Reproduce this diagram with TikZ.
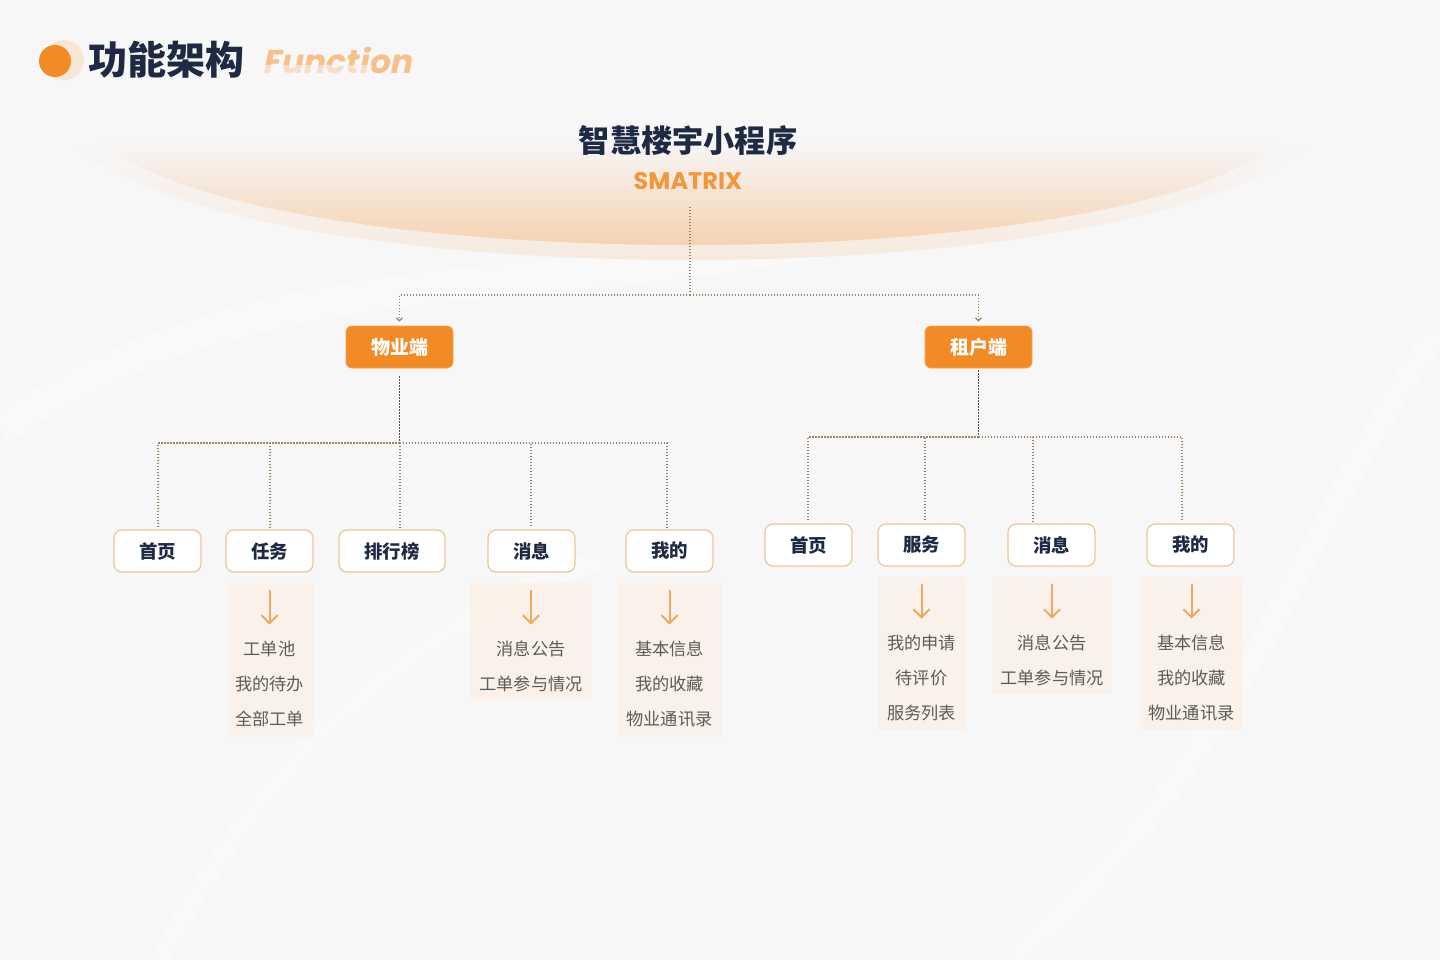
\documentclass[tikz,border=0pt]{standalone}
\usepackage{fontspec}
\setmainfont{Noto Sans CJK SC}
\newfontfamily\fnfont{Poppins}[FakeSlant=0.2]
\newfontfamily\brandfont{Poppins}
\usepackage{tikz}
\usetikzlibrary{arrows.meta, positioning}

\definecolor{bggray}{HTML}{F7F7F8}
\definecolor{navy}{HTML}{1E2A44}
\definecolor{brandorange}{HTML}{F28B26}
\definecolor{arroworange}{HTML}{EFA761}
\definecolor{boxline}{HTML}{EFC495}
\definecolor{panelpeach}{HTML}{FCF1E6}
\definecolor{dotline}{HTML}{9E8366}
\definecolor{itemgray}{HTML}{5C5C5C}

\tikzset{
	rootbox/.style={rectangle, rounded corners=3pt, fill=brandorange, draw=brandorange!80,
		minimum width=53.5pt, minimum height=21pt, text=white, inner sep=0pt,
		font=\fontsize{9.5}{10}\selectfont\bfseries},
	tabbox/.style={rectangle, rounded corners=4pt, fill=white, draw=boxline, line width=0.6pt,
		minimum width=43.5pt, minimum height=21pt, text=navy, inner sep=0pt,
		font=\fontsize{9.2}{10}\selectfont\bfseries},
	panel/.style={rectangle, fill=panelpeach, fill opacity=0.75, inner sep=0pt},
	items/.style={align=center, inner sep=0pt, text=itemgray,
		font=\fontsize{8.6}{17.5}\selectfont},
	conn/.style={dotline, line width=0.6pt, dash pattern=on 0.7pt off 0.8pt},
	trunk/.style={conn, dotline!60!black},
	itemarrow/.style={arroworange, line width=1pt, -{Straight Barb[length=4pt, width=8pt]}}
}

\begin{document}
\begin{tikzpicture}[x=0.5pt, y=-0.5pt]
	% Background and header:
	\fill[bggray] (0, 0) rectangle (1440, 960);
	\useasboundingbox (0, 0) rectangle (1440, 960);
	\draw[white, line width=16pt, opacity=0.3] (0, 430) .. controls (260, 250) and (560, 300) .. (820, 240);
	\draw[white, line width=12pt, opacity=0.3] (1010, 960) .. controls (1250, 760) and (1300, 520) .. (1440, 330);
	\draw[white, line width=10pt, opacity=0.25] (160, 960) .. controls (260, 760) and (420, 620) .. (600, 560);
	
	\fill[brandorange!35, opacity=0.5] (64, 60) circle (20);
	\fill[brandorange] (55, 61) circle (16);
	\node[anchor=west, inner sep=0pt, text=navy, font=\fontsize{19.5}{20}\selectfont\bfseries] 
	(head) at (88, 60){功能架构};
	\node[anchor=west, inner sep=0pt, text=brandorange!55, font=\fnfont\fontsize{16.5}{18}\selectfont\bfseries] 
	(headen) at (262, 60){Function};
	\fill[bggray, opacity=0.55] (262, 65) rectangle (372, 78);
	
	% Orange glow under the title:
	\shade[top color=bggray, bottom color=brandorange!16!bggray] 
	(70, 140) .. controls (225, 300) and (1155, 300) .. (1310, 140) -- cycle;
	\shade[top color=bggray, middle color=brandorange!9!bggray, bottom color=brandorange!45!bggray] 
	(100, 140) .. controls (250, 280) and (1130, 280) .. (1280, 140) -- cycle;
	
	% Title:
	\node[text=navy, inner sep=0pt, font=\fontsize{15.6}{16}\selectfont\bfseries] (title) at (688, 141){智慧楼宇小程序};
	\node[text=brandorange!90, inner sep=0pt, font=\brandfont\fontsize{12}{12}\selectfont\bfseries] (brand) at (688, 181){SMATRIX};
	\coordinate (top) at (690, 207);
	\coordinate (topbus) at (690, 295);
	
	% First level:
	\node[rootbox] (wy) at (399.5, 347){物业端};
	\node[rootbox] (zh) at (978.5, 347){租户端};
	
	\draw[conn] (top) -- (topbus);
	\draw[conn, -{Straight Barb[length=1.5pt, width=3pt]}, shorten >=2pt] (topbus) -| (wy.north);
	\draw[conn, -{Straight Barb[length=1.5pt, width=3pt]}, shorten >=2pt] (topbus) -| (zh.north);
	
	% Second level, property side:
	\node[tabbox] (l1) at (157.5, 551){首页};
	\node[tabbox] (l2) at (269.5, 551){任务};
	\node[tabbox, minimum width=53pt] (l3) at (392, 551){排行榜};
	\node[tabbox] (l4) at (531.5, 551){消息};
	\node[tabbox] (l5) at (669.5, 551){我的};
	\coordinate (lbus) at (400, 443);
	
	\draw[trunk, shorten <=4pt] (wy.south) -- (wy.south |- lbus);
	\foreach \n/\dx in {l1/0.25, l2/0.25, l3/4, l4/-0.25, l5/-1.25}
	\draw[conn, shorten >=1pt] (wy.south |- lbus) -| ([xshift=\dx pt]\n.north);
	
	% Second level, tenant side:
	\node[tabbox] (r1) at (808.5, 545){首页};
	\node[tabbox] (r2) at (921.5, 545){服务};
	\node[tabbox] (r3) at (1051.5, 545){消息};
	\node[tabbox] (r4) at (1190.5, 545){我的};
	\coordinate (rbus) at (976, 437);
	
	\draw[trunk, shorten <=1pt] (zh.south) -- (zh.south |- rbus);
	\foreach \n/\dx in {r1/-0.25, r2/1.75, r3/-9.25, r4/-4.25}
	\draw[conn, shorten >=1pt] (zh.south |- rbus) -| ([xshift=\dx pt]\n.north);
	
	% Item panels, property side:
	\node[panel, minimum width=42.5pt, minimum height=77pt] (p2) at (270.5, 660){};
	\node[items] (p2t) at (269.5, 684){工单池\\我的待办\\全部工单};
	\draw[itemarrow] (p2.north) ++(-1, 7) -- ++(0, 35);
	
	\node[panel, minimum width=61pt, minimum height=58.5pt] (p4) at (531, 641.5){};
	\node[items] (p4t) at (531, 666.5){消息公告\\工单参与情况};
	\draw[itemarrow] (p4.north) ++(0, 7) -- ++(0, 35);
	
	\node[panel, minimum width=52.5pt, minimum height=77pt] (p5) at (669.5, 660){};
	\node[items] (p5t) at (669.5, 684){基本信息\\我的收藏\\物业通讯录};
	\draw[itemarrow] (p5.north) ++(0, 7) -- ++(0, 35);
	
	% Item panels, tenant side:
	\node[panel, minimum width=43.5pt, minimum height=76.5pt] (q2) at (921.5, 653.5){};
	\node[items] (q2t) at (921.5, 678){我的申请\\待评价\\服务列表};
	\draw[itemarrow] (q2.north) ++(0, 7) -- ++(0, 35);
	
	\node[panel, minimum width=60pt, minimum height=58.5pt] (q3) at (1052, 635.5){};
	\node[items] (q3t) at (1052, 660.5){消息公告\\工单参与情况};
	\draw[itemarrow] (q3.north) ++(0, 7) -- ++(0, 35);
	
	\node[panel, minimum width=51.5pt, minimum height=76.5pt] (q4) at (1191.5, 653.5){};
	\node[items] (q4t) at (1191.5, 678){基本信息\\我的收藏\\物业通讯录};
	\draw[itemarrow] (q4.north) ++(0, 7) -- ++(0, 35);
\end{tikzpicture}
\end{document}
